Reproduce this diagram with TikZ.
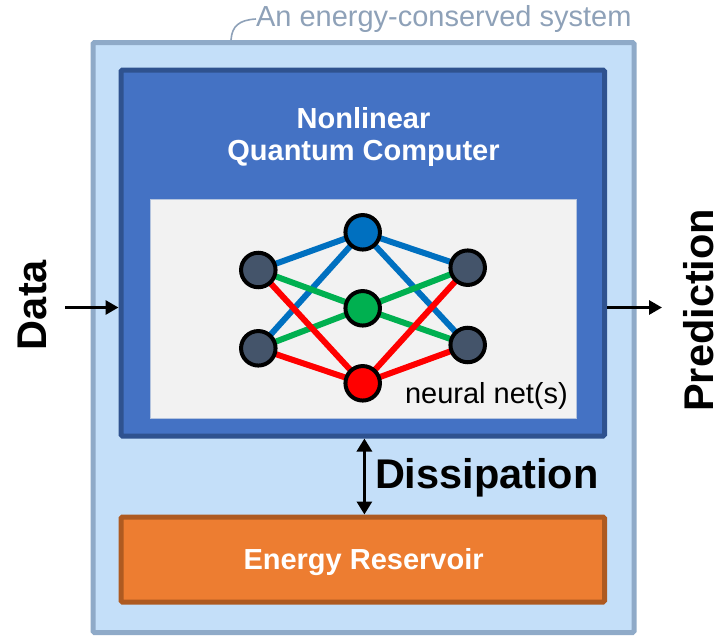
\documentclass[tikz,border=0pt]{standalone}
\usepackage{fontspec}
\setmainfont{Liberation Sans}
\usetikzlibrary{arrows.meta}

\definecolor{sysfill}{HTML}{C4DFF9}
\definecolor{sysline}{HTML}{8FAAC8}
\definecolor{syslabel}{HTML}{8EA1B8}
\definecolor{qcfill}{HTML}{4472C4}
\definecolor{qcline}{HTML}{2F528F}
\definecolor{panelfill}{HTML}{F2F2F2}
\definecolor{panelline}{HTML}{B4C4DE}
\definecolor{resfill}{HTML}{ED7D31}
\definecolor{resline}{HTML}{AE5A21}
\definecolor{neurongray}{HTML}{44546A}
\definecolor{wblue}{HTML}{0070C0}
\definecolor{wgreen}{HTML}{00B050}
\definecolor{wred}{HTML}{FF0000}

\pgfdeclarelayer{boxes}
\pgfdeclarelayer{links}
\pgfsetlayers{boxes,links,main}

\newcommand{\midfont}{\fontsize{29}{32}\selectfont}
\newcommand{\bigfont}{\fontsize{41.5}{46}\selectfont\bfseries}

\tikzset{
  box/.style={draw, line width=5pt, rectangle, rounded corners=1.5pt, inner sep=0pt},
  neuron/.style={circle, draw=black, line width=4pt, minimum size=34.5pt, inner sep=0pt},
  link/.style={line width=6pt},
  flow/.style={line width=3pt, -{Triangle[length=13pt,width=14pt]}},
  twoway/.style={line width=3pt, {Triangle[length=13pt,width=15pt]}-{Triangle[length=13pt,width=15pt]}},
  plain/.style={inner sep=0pt, outer sep=0pt}
}

\begin{document}
\begin{tikzpicture}[x=1pt, y=-1pt]
\useasboundingbox (0,0) rectangle (718,635);

\begin{pgfonlayer}{boxes}
  % energy-conserved system
  \node[box, draw=sysline, fill=sysfill, minimum width=541pt, minimum height=590pt] (sys) at (363.5,337.5) {};
  % quantum computer
  \node[box, draw=qcline, fill=qcfill, minimum width=483.5pt, minimum height=366pt] (qc) at (362.75,253) {};
  % neural-net panel
  \node[draw=panelline, fill=panelfill, line width=1pt, minimum width=426pt, minimum height=219pt, inner sep=0pt] (panel) at (363,308.7) {};
  % reservoir
  \node[box, draw=resline, fill=resfill, minimum width=483.5pt, minimum height=85pt] (res) at (362.75,559.5) {};
\end{pgfonlayer}

% system label with its leader
\node[plain, anchor=base west, text=syslabel, font=\midfont] (syslbl) at (256,26.7) {An energy-conserved system};
\draw[syslabel, line width=1.6pt] (231,40) .. controls (232,26) and (239,20) .. (syslbl.base west |- 0,19);

% titles (the base anchor sits on the last line)
\node[plain, anchor=base, align=center, text=white, font=\midfont\bfseries] (title) at (363.5,160.3) {Nonlinear\\Quantum Computer};
\node[plain, anchor=base, text=white, font=\midfont\bfseries] (restitle) at (363.6,569) {Energy Reservoir};

% neurons
\node[neuron, fill=neurongray] (l1) at (258.3,270) {};
\node[neuron, fill=neurongray] (l2) at (258.3,348.3) {};
\node[neuron, fill=wblue]      (m1) at (362.7,232.3) {};
\node[neuron, fill=wgreen]     (m2) at (362.7,308.3) {};
\node[neuron, fill=wred]       (m3) at (362.7,383.3) {};
\node[neuron, fill=neurongray] (r1) at (467.7,267.7) {};
\node[neuron, fill=neurongray] (r2) at (467.7,345) {};

\begin{pgfonlayer}{links}
  \foreach \a in {l1,l2} \draw[link, wblue] (\a.center) -- (m1.center);
  \foreach \b in {r1,r2} \draw[link, wblue] (m1.center) -- (\b.center);
  \foreach \a in {l1,l2} \draw[link, wgreen] (\a.center) -- (m2.center);
  \foreach \b in {r1,r2} \draw[link, wgreen] (m2.center) -- (\b.center);
  \foreach \a in {l1,l2} \draw[link, wred] (\a.center) -- (m3.center);
  \foreach \b in {r1,r2} \draw[link, wred] (m3.center) -- (\b.center);
\end{pgfonlayer}

\node[plain, anchor=base west, font=\midfont] (nnlbl) at (405,403.3) {neural net(s)};

% input and output
\coordinate (datain) at (65,307.5);
\coordinate (predout) at (662,307.5);
\draw[flow] (datain) -- (qc.west |- datain);
\draw[flow] (qc.east |- predout) -- (predout);
\node[plain, rotate=90, anchor=base west, font=\bigfont] (data) at (46.7,350) {Data};
\node[plain, rotate=90, anchor=base west, font=\bigfont] (pred) at (713.8,411.7) {Prediction};

% dissipation
\coordinate (dis) at (364.4,480);
\draw[twoway] (qc.south -| dis) -- (res.north -| dis);
\node[plain, anchor=base west, font=\bigfont] (dislbl) at (375,488) {Dissipation};
\end{tikzpicture}
\end{document}
